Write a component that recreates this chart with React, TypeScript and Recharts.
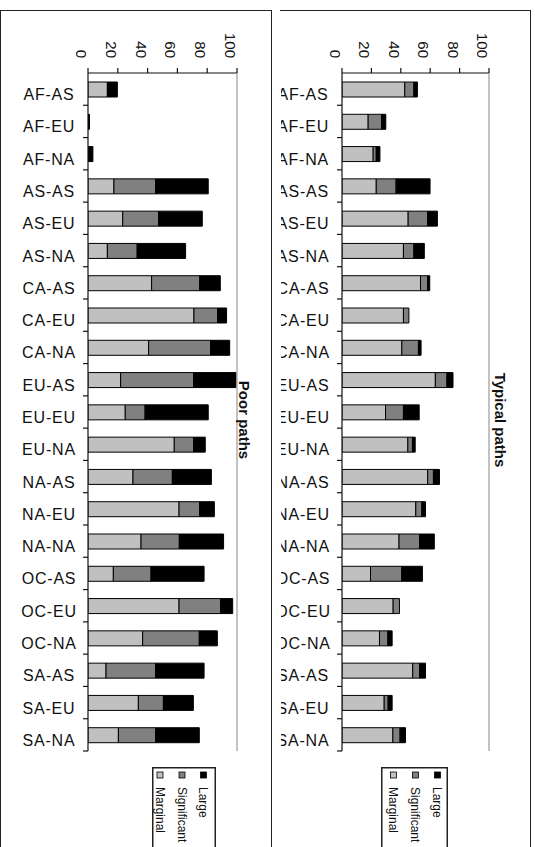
import React from 'react';
import { BarChart, Bar, XAxis, YAxis, Legend } from 'recharts';

const categories = ['AF-AS', 'AF-EU', 'AF-NA', 'AS-AS', 'AS-EU', 'AS-NA', 'CA-AS', 'CA-EU', 'CA-NA', 'EU-AS', 'EU-EU', 'EU-NA', 'NA-AS', 'NA-EU', 'NA-NA', 'OC-AS', 'OC-EU', 'OC-NA', 'SA-AS', 'SA-EU', 'SA-NA'];

const poorMarginal = [13, 0, 0, 17.4, 23.3, 13, 42.7, 71.1, 40.7, 21.9, 25, 57.9, 30.2, 61.1, 35.6, 17, 61.1, 36.7, 12.1, 33.8, 20.4];
const poorSignificant = [0, 0, 0, 28, 24.1, 20, 32.3, 15.9, 41.6, 49, 13.3, 13, 26.4, 13.9, 25.7, 25.3, 27.9, 38, 33.3, 16.8, 25];
const poorLarge = [6.7, 1, 3.3, 35.3, 29.3, 32.5, 13.8, 6, 12.8, 28.4, 42.4, 7.8, 26.2, 9.8, 29.7, 35.6, 8.1, 12.1, 32.5, 20.1, 29.3];

const typMarginal = [42.7, 17.8, 21.2, 23.3, 45, 41.8, 53.4, 41.8, 40.7, 63.5, 29.6, 44.8, 58.3, 50.2, 38.8, 19.4, 34.8, 25.5, 48.1, 28.7, 34.6];
const typSignificant = [6.2, 9.1, 2.1, 13.5, 13.3, 7.1, 4.9, 3.7, 11.3, 7.9, 12.2, 3.1, 3.9, 4.1, 14, 21.3, 4.3, 5.7, 4.7, 2.7, 4.9];
const typLarge = [2.4, 2.9, 2.5, 23.1, 6.6, 7.1, 1.4, 0, 1.8, 4.1, 10.7, 1.9, 4.1, 2.5, 10, 14, 0, 2.9, 4, 2.7, 3.7];

const valueTicks = [0, 20, 40, 60, 80, 100];

const SERIES = [
  { key: 'marginal', name: 'Marginal', color: '#c0c0c0' },
  { key: 'significant', name: 'Significant', color: '#808080' },
  { key: 'large', name: 'Large', color: '#000000' },
];

const FONT = '"Liberation Sans", Arial, Helvetica, sans-serif';

const buildData = (m: number[], s: number[], l: number[]) =>
  categories.map((c, i) => ({ cat: c, marginal: m[i], significant: s[i], large: l[i] }));

const poorData = buildData(poorMarginal, poorSignificant, poorLarge);
const typData = buildData(typMarginal, typSignificant, typLarge);

const CHART_H = 847;
const TOP_AXIS_H = 73;
const MARGIN_BOTTOM = 96;

function Panel(props: any) {
  const { data, width, catWidth, rightWidth, title, titleDx, legendLeft, legendWidth, legendCenters } = props;
  const step = (CHART_H - MARGIN_BOTTOM - TOP_AXIS_H) / categories.length;

  const catTick = (p: any) => {
    const { x, y, payload, index } = p;
    return (
      <g>
        <text x={x - 39} y={y + 11} textAnchor="middle" fontSize={16} letterSpacing={0.8} fill="#111" fontFamily={FONT}>
          {payload.value}
        </text>
        {index > 0 && <line x1={x - 5} x2={x} y1={y - step / 2} y2={y - step / 2} stroke="#111" strokeWidth={1.2} />}
        {index === categories.length - 1 && (
          <line x1={x - 5} x2={x} y1={y + step / 2} y2={y + step / 2} stroke="#111" strokeWidth={1.2} />
        )}
      </g>
    );
  };

  const valTick = (p: any) => {
    const { x, y, payload } = p;
    return (
      <text transform={`translate(${x - 12},${y}) rotate(90)`} textAnchor="end" fontSize={15} fill="#111" fontFamily={FONT}>
        {payload.value}
      </text>
    );
  };

  const TitleLabel = (lp: any) => {
    const vb = lp.viewBox || { x: 0, y: 0, width: 0, height: 0 };
    const cx = vb.x + titleDx;
    const cy = vb.y + vb.height / 2 + 8;
    return (
      <text transform={`translate(${cx - 5.5},${cy}) rotate(90)`} textAnchor="middle" fontSize={15} fontWeight="bold" fill="#111" fontFamily={FONT}>
        {title}
      </text>
    );
  };

  const legendContent = (lp: any) => {
    const payload = lp.payload || [];
    const ordered = SERIES.map((s) => payload.find((it: any) => it.value === s.name) || { value: s.name, color: s.color });
    return (
      <svg width={legendWidth} height={100} style={{ display: 'block' }}>
        <rect x={0.75} y={0.75} width={legendWidth - 1.5} height={120} fill="#fff" stroke="#222" strokeWidth={1.5} />
        {ordered.map((item: any, i: number) => (
          <g key={item.value}>
            <rect x={legendCenters[i] - 3} y={5} width={6} height={6} fill={item.color} stroke="#000" strokeWidth={0.8} />
            <text transform={`translate(${legendCenters[i] - 4.3},20) rotate(90)`} textAnchor="start" fontSize={12} fill="#111" fontFamily={FONT}>
              {item.value}
            </text>
          </g>
        ))}
      </svg>
    );
  };

  return (
    <BarChart
      width={width}
      height={CHART_H}
      data={data}
      layout="vertical"
      margin={{ top: 0, right: 0, bottom: MARGIN_BOTTOM, left: 0 }}
      barCategoryGap={0}
    >
      <XAxis
        type="number"
        orientation="top"
        domain={[0, 100]}
        ticks={valueTicks}
        height={TOP_AXIS_H}
        tickSize={5}
        tickMargin={10}
        axisLine={{ stroke: '#111', strokeWidth: 1.2 }}
        tickLine={{ stroke: '#111', strokeWidth: 1.2 }}
        tick={valTick}
        allowDataOverflow
      />
      <XAxis
        xAxisId="bottom"
        type="number"
        orientation="bottom"
        domain={[0, 100]}
        height={0}
        tick={false}
        tickLine={false}
        axisLine={{ stroke: '#999', strokeWidth: 1.2 }}
      />
      <YAxis
        type="category"
        dataKey="cat"
        width={catWidth}
        interval={0}
        tickSize={0}
        tickMargin={0}
        tickLine={false}
        axisLine={{ stroke: '#111', strokeWidth: 1.2 }}
        tick={catTick}
      />
      <YAxis
        yAxisId="right"
        type="category"
        dataKey="cat"
        orientation="right"
        width={rightWidth}
        tick={false}
        tickLine={false}
        axisLine={{ stroke: '#999', strokeWidth: 1.2 }}
        label={<TitleLabel />}
      />
      <Legend
        layout="vertical"
        align="center"
        verticalAlign="middle"
        itemSorter={null as any}
        wrapperStyle={{ position: 'absolute', left: legendLeft, top: 767, width: legendWidth, height: 100, margin: 0 }}
        content={legendContent}
      />
      {SERIES.map((s) => (
        <Bar
          key={s.key}
          dataKey={s.key}
          name={s.name}
          stackId="a"
          fill={s.color}
          stroke="#000"
          strokeWidth={1}
          barSize={15}
          isAnimationActive={false}
        />
      ))}
    </BarChart>
  );
}

export default function App() {
  return (
    <div style={{ position: 'absolute', left: 0, top: 0, width: 535, height: 847, overflow: 'hidden', background: '#fff', fontFamily: FONT }}>
      <div style={{ position: 'absolute', left: 0, top: 0, width: 270, height: 847, overflow: 'hidden' }}>
        <Panel
          data={poorData}
          width={270}
          catWidth={88}
          rightWidth={33}
          title="Poor paths"
          titleDx={7}
          legendLeft={152}
          legendWidth={64}
          legendCenters={[8, 30, 51.5]}
        />
      </div>
      <div style={{ position: 'absolute', left: 281, top: 0, width: 250, height: 847, overflow: 'hidden' }}>
        <Panel
          data={typData}
          width={250}
          catWidth={61}
          rightWidth={42}
          title="Typical paths"
          titleDx={11}
          legendLeft={100}
          legendWidth={67}
          legendCenters={[12.5, 34.5, 56.5]}
        />
      </div>
      <div style={{ position: 'absolute', left: 0, top: 10, width: 272, height: 900, boxSizing: 'border-box', borderTop: '1.5px solid #222', borderLeft: '1.5px solid #222', borderRight: '1.5px solid #222', pointerEvents: 'none' }} />
      <div style={{ position: 'absolute', left: 280, top: 10, width: 251, height: 900, boxSizing: 'border-box', borderTop: '1.5px solid #222', borderRight: '1.5px solid #222', pointerEvents: 'none' }} />
    </div>
  );
}
